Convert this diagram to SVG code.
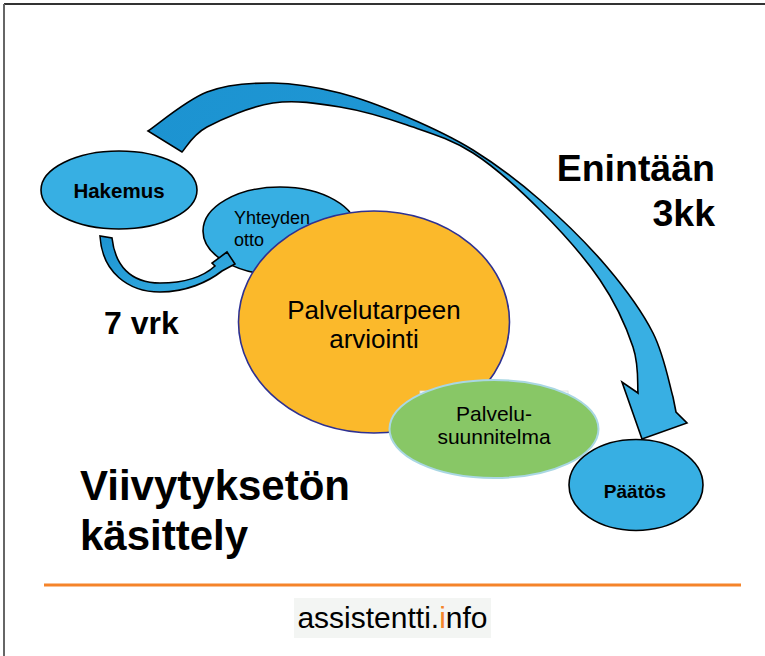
<svg xmlns="http://www.w3.org/2000/svg" width="765" height="656" viewBox="0 0 765 656">
<defs>
<style>
.t{font-family:"Liberation Sans",Arial,sans-serif;fill:#000}
.b{font-weight:bold}
.blue{fill:#37AFE3;stroke:#000;stroke-width:1.6}
.arr{stroke:#000;stroke-width:1.6;stroke-linejoin:miter}
</style>
<linearGradient id="gBig" gradientUnits="userSpaceOnUse" x1="150" y1="100" x2="700" y2="420">
<stop offset="0" stop-color="#1C93D1"/>
<stop offset="0.42" stop-color="#1F97D4"/>
<stop offset="0.58" stop-color="#38AFE3"/>
<stop offset="1" stop-color="#38AFE3"/>
</linearGradient>
<linearGradient id="gSmall" x1="0" y1="0" x2="1" y2="1">
<stop offset="0" stop-color="#1C93D1"/>
<stop offset="1" stop-color="#36ADE2"/>
</linearGradient>
</defs>
<rect width="765" height="656" fill="#fff"/>
<line x1="4" y1="4" x2="765" y2="4" stroke="#333" stroke-width="2"/>
<line x1="4" y1="4" x2="4" y2="656" stroke="#666" stroke-width="2"/>

<g id="hakemus">
<ellipse class="blue" cx="119" cy="190" rx="78" ry="39"/>
<text class="t b" x="119" y="198" font-size="20.5" text-anchor="middle">Hakemus</text>
</g>
<g id="yhteydenotto">
<ellipse class="blue" cx="280" cy="231" rx="77" ry="44"/>
<text class="t" x="234" y="224" font-size="18">Yhteyden</text>
<text class="t" x="234" y="246" font-size="18">otto</text>
</g>
<g id="connectors">
<path class="arr" fill="url(#gSmall)" d="M100,236 C102,272 128,292 160,292 C186,292 208,282 222,271 L235,264 L227,252 L212,263 L215,266 C204,276 185,283 160,283 C130,283 115,265 112,238 Z"/>
<path class="arr" fill="url(#gBig)" d="M148,131 C157.8,124.5 186.2,100 207,92 C227.8,84 250.8,82.8 273,83 C295.2,83.2 317.7,87.3 340,93 C362.3,98.7 384.8,107.5 407,117 C429.2,126.5 450.8,136.2 473,150 C495.2,163.8 517.7,180.5 540,200 C562.3,219.5 588.2,244.8 607,267 C625.8,289.2 642,311.3 653,333 C664,354.7 669.2,383.8 673,397 L676,412 L687,423 L642,439 L622,382 L638,393 C637.2,385.3 639.3,365.8 633,347 C626.7,328.2 615.5,302.8 600,280 C584.5,257.2 561.2,231.2 540,210 C518.8,188.8 495.2,167.2 473,153 C450.8,138.8 429.2,132.7 407,125 C384.8,117.3 362.3,110.7 340,107 C317.7,103.3 295.2,99.7 273,103 C250.8,106.3 222.2,118.8 207,127 C191.8,135.2 186.2,147.8 182,152 Z"/>
</g>
<g id="palvelutarve">
<ellipse cx="374" cy="322" rx="135.5" ry="111" fill="#FBB92B" stroke="#2E3192" stroke-width="1.6"/>
<text class="t" x="374" y="319" font-size="26" text-anchor="middle">Palvelutarpeen</text>
<text class="t" x="374" y="348" font-size="26" text-anchor="middle">arviointi</text>
</g>
<rect x="420" y="391" width="148" height="30" fill="#fff" stroke="#ddd" stroke-width="0.8"/>
<g id="palvelusuunnitelma">
<ellipse cx="494" cy="429" rx="104.5" ry="49" fill="#88C766" stroke="#A9D7E3" stroke-width="2"/>
<text class="t" x="494" y="421" font-size="21" text-anchor="middle">Palvelu-</text>
<text class="t" x="494" y="444" font-size="21" text-anchor="middle">suunnitelma</text>
</g>
<g id="paatos">
<ellipse class="blue" cx="636" cy="485" rx="67" ry="45.5"/>
<text class="t b" x="635" y="498" font-size="19" text-anchor="middle">Päätös</text>
</g>

<text class="t b" x="715" y="181" font-size="37.5" text-anchor="end">Enintään</text>
<text class="t b" x="715" y="226" font-size="37.5" text-anchor="end">3kk</text>
<text class="t b" x="104" y="334" font-size="32">7 vrk</text>
<text class="t b" x="80" y="500" font-size="42">Viivytyksetön</text>
<text class="t b" x="80" y="550" font-size="42">käsittely</text>

<line x1="44" y1="585" x2="741" y2="585" stroke="#F5842A" stroke-width="3"/>
<rect x="294" y="598" width="197" height="40" fill="#F3F5F3"/>
<text class="t" x="392.5" y="628" font-size="30" text-anchor="middle">assistentti.<tspan fill="#F5842A">i</tspan>nfo</text>
</svg>
